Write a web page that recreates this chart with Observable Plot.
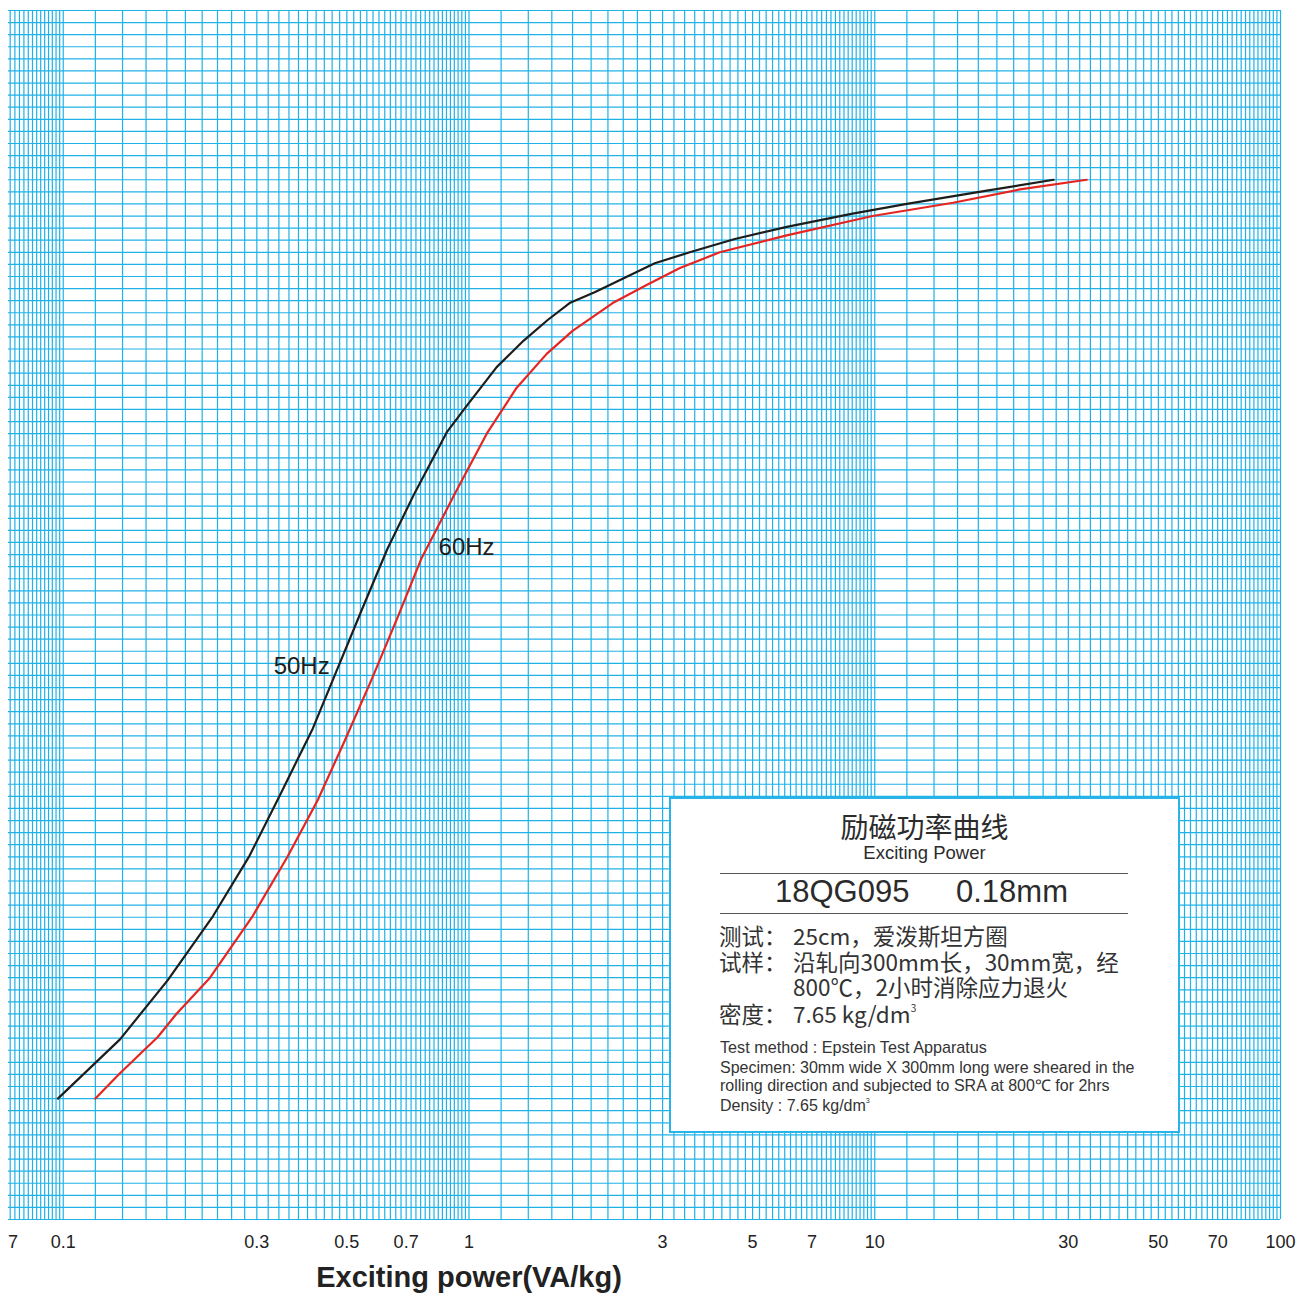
<!DOCTYPE html>
<html><head><meta charset="utf-8">
<script src="https://cdn.jsdelivr.net/npm/d3@7"></script>
<script src="https://cdn.jsdelivr.net/npm/@observablehq/plot@0.6"></script>
<style>
html,body{margin:0;padding:0;background:#fff;}
#wrap{position:relative;width:1300px;height:1295px;overflow:hidden;background:#fff;}
#wrap svg{display:block;position:absolute;left:8px;top:0;overflow:hidden;}
.box{position:absolute;left:669px;top:797px;width:511px;height:336px;box-sizing:border-box;border:2px solid #2ab3e6;background:#fff;}
.t{position:absolute;white-space:nowrap;line-height:1;color:#333;}
.lat{font-family:'Liberation Sans',Arial,sans-serif;}
.cjk{font-family:'Noto Sans CJK SC',sans-serif;}
.rule{position:absolute;left:720px;width:408px;height:0;border-top:1.5px solid #555;}
sup{font-size:0.45em;vertical-align:baseline;position:relative;top:-1.1em;}
</style></head>
<body>
<div id="wrap">
  <div class="box"></div>
  <div class="t cjk" style="left:669px;width:511px;text-align:center;top:812px;font-size:28px;color:#2b2b2b;">励磁功率曲线</div>
  <div class="t lat" style="left:669px;width:511px;text-align:center;top:843.6px;font-size:18.5px;color:#2b2b2b;">Exciting Power</div>
  <div class="rule" style="top:872.5px;"></div>
  <div class="t lat" style="left:775px;top:875.5px;font-size:31px;color:#2b2b2b;">18QG095</div>
  <div class="t lat" style="left:956px;top:875.5px;font-size:31px;color:#2b2b2b;">0.18mm</div>
  <div class="rule" style="top:913px;"></div>
  <div class="t cjk" style="left:719px;top:924px;font-size:22.5px;">测试：</div>
  <div class="t cjk" style="left:793px;top:924px;font-size:22.5px;">25cm，爱泼斯坦方圈</div>
  <div class="t cjk" style="left:719px;top:950px;font-size:22.5px;">试样：</div>
  <div class="t cjk" style="left:793px;top:950px;font-size:22.5px;">沿轧向300mm长，30mm宽，经</div>
  <div class="t cjk" style="left:793px;top:975px;font-size:22.5px;">800℃，2小时消除应力退火</div>
  <div class="t cjk" style="left:719px;top:1002px;font-size:22.5px;">密度：</div>
  <div class="t cjk" style="left:793px;top:1002px;font-size:22.5px;">7.65 kg/dm<sup>3</sup></div>
  <div class="t lat" style="left:720px;top:1039.2px;font-size:16.2px;">Test method : Epstein Test Apparatus</div>
  <div class="t lat" style="left:720px;top:1059.8px;font-size:16px;">Specimen: 30mm wide X 300mm long were sheared in the</div>
  <div class="t lat" style="left:720px;top:1078.2px;font-size:16px;">rolling direction and subjected to SRA at 800℃ for 2hrs</div>
  <div class="t lat" style="left:720px;top:1098.2px;font-size:16px;">Density : 7.65 kg/dm<sup>3</sup></div>
</div>
<script>
// Tick labels along the exciting-power axis
const xTickValues = [0.07, 0.1, 0.3, 0.5, 0.7, 1, 3, 5, 7, 10, 30, 50, 70, 100];
const xTickLabels = ["0.07", "0.1", "0.3", "0.5", "0.7", "1", "3", "5", "7", "10", "30", "50", "70", "100"];

// 50 Hz curve: exciting power (VA/kg) vs induction (T)
const power50 = [0.097, 0.138, 0.181, 0.234, 0.288, 0.342, 0.412, 0.472, 0.547, 0.630, 0.735, 0.881, 0.987, 1.17, 1.364, 1.563, 1.77, 2.04, 2.42, 2.87, 3.50, 4.52, 6.07, 8.82, 12.0, 18.9, 27.6];
const induction50 = [1.100, 1.149, 1.198, 1.251, 1.301, 1.351, 1.406, 1.454, 1.506, 1.555, 1.601, 1.651, 1.673, 1.705, 1.727, 1.744, 1.758, 1.767, 1.779, 1.791, 1.800, 1.811, 1.821, 1.832, 1.840, 1.851, 1.860];

// 60 Hz curve
const power60 = [0.120, 0.138, 0.171, 0.190, 0.230, 0.293, 0.357, 0.424, 0.494, 0.576, 0.667, 0.764, 0.922, 1.106, 1.311, 1.554, 1.80, 2.26, 2.74, 3.31, 4.15, 6.07, 9.88, 15.6, 22.8, 33.3];
const induction60 = [1.100, 1.121, 1.151, 1.170, 1.200, 1.251, 1.300, 1.347, 1.396, 1.447, 1.498, 1.547, 1.600, 1.650, 1.688, 1.716, 1.735, 1.758, 1.773, 1.787, 1.800, 1.814, 1.830, 1.841, 1.852, 1.860];

const seriesNames = ["50Hz", "60Hz"];
const axisTitle = "Exciting power(VA/kg)";

const xDomain = [0.0733, 100];
const yDomain = [1.0, 2.0];
const gridColor = "#1fb2e8";

// log-paper grid: each decade divided at steps of 0.2 × decade
const gridDecades = [0.01, 0.1, 1, 10];
const gridX = gridDecades
  .flatMap(d => d3.range(45).map(k => +(d * (1 + 0.2 * k)).toPrecision(6)))
  .concat([100])
  .filter(v => v >= xDomain[0] && v <= xDomain[1]);
const gridY = d3.range(101).map(i => +(1 + i * 0.01).toFixed(2));

const curve50 = power50.map((p, i) => ({p, b: induction50[i]}));
const curve60 = power60.map((p, i) => ({p, b: induction60[i]}));
const label50 = [{text: seriesNames[0], p: power50[7], b: induction50[7]}];
const label60 = [{text: seriesNames[1], p: power60[11], b: induction60[11]}];

const chart = Plot.plot({
  width: 1292,
  height: 1295,
  marginTop: 10,
  marginBottom: 76,
  marginLeft: 0,
  marginRight: 20,
  x: {type: "log", domain: xDomain, axis: null},
  y: {domain: yDomain, axis: null},
  style: {fontFamily: "'Liberation Sans', Arial, sans-serif", background: "#fff", color: "#222", overflow: "hidden"},
  marks: [
    Plot.ruleX(gridX, {x: d => d, stroke: gridColor, strokeWidth: 1.2}),
    Plot.ruleY(gridY, {y: d => d, stroke: gridColor, strokeWidth: 1.2}),
    Plot.line(curve50, {x: "p", y: "b", stroke: "#1d1d1b", strokeWidth: 2.2}),
    Plot.line(curve60, {x: "p", y: "b", stroke: "#e52521", strokeWidth: 2.2}),
    Plot.text(label50, {x: "p", y: "b", text: "text", textAnchor: "end", dx: -7, dy: -4, fontSize: 24, fill: "#1d1d1b"}),
    Plot.text(label60, {x: "p", y: "b", text: "text", textAnchor: "start", dx: 17, dy: -11, fontSize: 24, fill: "#1d1d1b"}),
    Plot.text(xTickValues, {x: d => d, text: (d, i) => xTickLabels[i], frameAnchor: "bottom", lineAnchor: "middle", dy: 23, fontSize: 18, fill: "#222"}),
    Plot.text([axisTitle], {x: () => 1, text: d => d, frameAnchor: "bottom", lineAnchor: "middle", dy: 58, fontSize: 29, fontWeight: "bold", fill: "#222"})
  ]
});
const wrap = document.getElementById("wrap");
wrap.insertBefore(chart, wrap.firstChild);
</script>
</body></html>
